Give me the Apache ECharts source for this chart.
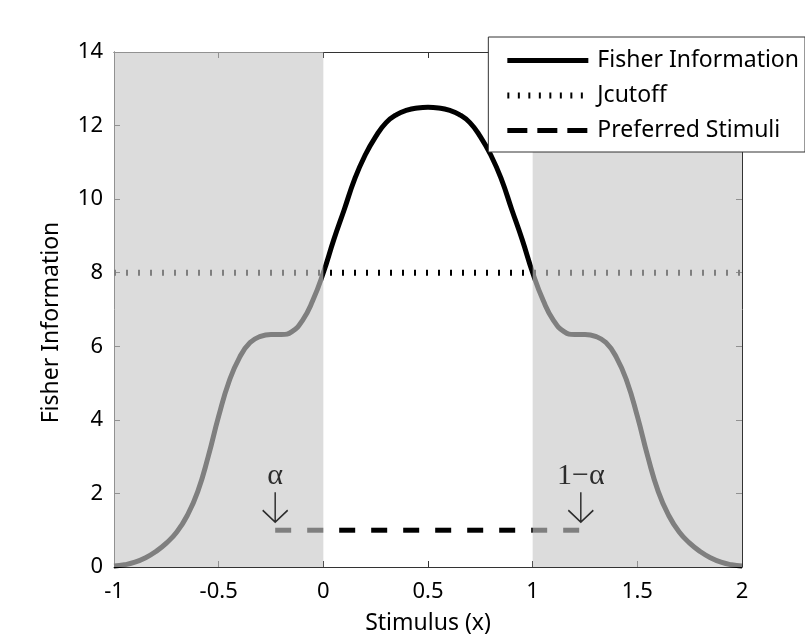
<!DOCTYPE html>
<html>
<head>
<meta charset="utf-8">
<script src="https://cdn.jsdelivr.net/npm/echarts@6/dist/echarts.min.js"></script>
<style>
  html, body { margin: 0; padding: 0; background: #fff; }
  #chart { width: 805px; height: 641px; }
</style>
</head>
<body>
<div id="chart"></div>
<script>
// stimulus values and Fisher information
var stimX = [
  -1.00, -0.95, -0.90, -0.85, -0.80, -0.75, -0.70, -0.65, -0.60, -0.55,
  -0.50, -0.45, -0.40, -0.35, -0.30, -0.25, -0.20, -0.15, -0.10, -0.05,
   0.00,  0.05,  0.10,  0.15,  0.20,  0.25,  0.30,  0.35,  0.40,  0.45,
   0.50,  0.55,  0.60,  0.65,  0.70,  0.75,  0.80,  0.85,  0.90,  0.95,
   1.00,  1.05,  1.10,  1.15,  1.20,  1.25,  1.30,  1.35,  1.40,  1.45,
   1.50,  1.55,  1.60,  1.65,  1.70,  1.75,  1.80,  1.85,  1.90,  1.95,
   2.00
];
var fisherY = [
  0.03, 0.06, 0.13, 0.25, 0.42, 0.65, 0.95, 1.40, 2.05, 3.00,
  4.10, 5.05, 5.70, 6.10, 6.27, 6.32, 6.32, 6.40, 6.70, 7.25,
  8.00, 8.90, 9.72, 10.55, 11.20, 11.70, 12.08, 12.30, 12.42, 12.48,
  12.50, 12.48, 12.42, 12.30, 12.08, 11.70, 11.20, 10.55, 9.72, 8.90,
  8.00, 7.25, 6.70, 6.40, 6.32, 6.32, 6.27, 6.10, 5.70, 5.05,
  4.10, 3.00, 2.05, 1.40, 0.95, 0.65, 0.42, 0.25, 0.13, 0.06,
  0.03
];
var cutoffX = [-1, 2];
var cutoffY = [8, 8];
var prefX = [-0.23, 1.23];
var prefY = [1, 1];
var markLabels = ['α', '1−α'];
var shadeRanges = [[-1, 0], [1, 2]];

function pairs(xs, ys) {
  return xs.map(function (x, i) { return [x, ys[i]]; });
}

var font = 'Noto Sans';
var axisColor = '#333';
var hideDot = { opacity: 0 };

var chart = echarts.init(document.getElementById('chart'));
chart.setOption({
  animation: false,
  grid: { left: 114, right: 63, top: 52, bottom: 74 },
  legend: {
    data: [
      { name: 'Fisher Information', itemStyle: hideDot, lineStyle: { width: 5 } },
      { name: 'Jcutoff', itemStyle: hideDot, lineStyle: { width: 6, type: [2, 8.5], cap: 'butt' } },
      { name: 'Preferred Stimuli', itemStyle: hideDot, lineStyle: { width: 5, type: [20, 10], cap: 'butt' } }
    ],
    orient: 'vertical',
    right: 0,
    top: 37,
    itemWidth: 81,
    itemHeight: 14,
    itemGap: 12,
    selectedMode: false,
    backgroundColor: '#fff',
    borderColor: '#333',
    borderWidth: 1,
    borderRadius: 0,
    padding: [12, 6, 10, 16],
    z: 20,
    itemStyle: hideDot,
    textStyle: { fontFamily: font, fontSize: 23, color: '#000', padding: [0, 0, 0, 4] }
  },
  xAxis: [{
    type: 'value', min: -1, max: 2, interval: 0.5,
    name: 'Stimulus (x)', nameLocation: 'middle', nameGap: 45,
    nameTextStyle: { fontFamily: font, fontSize: 23, color: '#000' },
    axisLine: { onZero: false, lineStyle: { color: axisColor } },
    axisTick: { inside: true, length: 6, lineStyle: { color: axisColor } },
    axisLabel: { fontFamily: font, fontSize: 22, color: '#000', margin: 14, showMinLabel: true, showMaxLabel: true },
    splitLine: { show: false }
  }, {
    type: 'value', position: 'top', min: -1, max: 2, interval: 0.5,
    axisLine: { onZero: false, lineStyle: { color: axisColor } },
    axisTick: { inside: true, length: 6, lineStyle: { color: axisColor } },
    axisLabel: { show: false },
    splitLine: { show: false }
  }],
  yAxis: [{
    type: 'value', min: 0, max: 14, interval: 2,
    name: 'Fisher Information', nameLocation: 'middle', nameGap: 51,
    nameTextStyle: { fontFamily: font, fontSize: 23, color: '#000', padding: [0, 26, 0, 0] },
    axisLine: { show: true, onZero: false, lineStyle: { color: axisColor } },
    axisTick: { show: true, inside: true, length: 6, lineStyle: { color: axisColor } },
    axisLabel: { fontFamily: font, fontSize: 22, color: '#000', margin: 11 },
    splitLine: { show: false }
  }, {
    type: 'value', position: 'right', min: 0, max: 14, interval: 2,
    axisLine: { show: true, onZero: false, lineStyle: { color: axisColor } },
    axisTick: { show: true, inside: true, length: 6, lineStyle: { color: axisColor } },
    axisLabel: { show: false },
    splitLine: { show: false }
  }],
  series: [{
    name: 'Fisher Information',
    type: 'line',
    data: pairs(stimX, fisherY),
    smooth: 0.5,
    symbol: 'none',
    z: 2,
    itemStyle: { color: '#000' },
    lineStyle: { color: '#000', width: 5 }
  }, {
    name: 'Jcutoff',
    type: 'line',
    data: pairs(cutoffX, cutoffY),
    symbol: 'none',
    z: 2,
    itemStyle: { color: '#000' },
    lineStyle: { color: '#000', width: 6, type: [2, 10], cap: 'butt' }
  }, {
    name: 'Preferred Stimuli',
    type: 'line',
    data: pairs(prefX, prefY),
    symbol: 'none',
    z: 2,
    itemStyle: { color: '#000' },
    lineStyle: { color: '#000', width: 5, type: [16, 16], cap: 'butt' }
  }, {
    // translucent grey shading laid over everything outside [0, 1]
    name: 'shade',
    type: 'line',
    data: [],
    z: 10,
    markArea: {
      silent: true,
      z: 10,
      itemStyle: { color: 'rgba(200,200,200,0.635)' },
      data: shadeRanges.map(function (r) { return [{ xAxis: r[0] }, { xAxis: r[1] }]; })
    }
  }, {
    // arrows pointing at the ends of the preferred-stimuli range
    name: 'marks',
    type: 'scatter',
    data: pairs(prefX, prefY),
    symbol: 'path://M12.5,0 L12.5,30 M0,18 L12.5,30 L25,18',
    symbolSize: [25, 30],
    symbolOffset: [0, -23],
    z: 30,
    silent: true,
    itemStyle: { color: 'transparent', borderColor: '#000', borderWidth: 1.6 },
    label: {
      show: true,
      position: 'top',
      distance: 1,
      color: '#000',
      fontFamily: 'Liberation Serif',
      fontSize: 30,
      lineHeight: 28,
      formatter: function (p) { return markLabels[p.dataIndex]; }
    }
  }]
});
</script>
</body>
</html>
